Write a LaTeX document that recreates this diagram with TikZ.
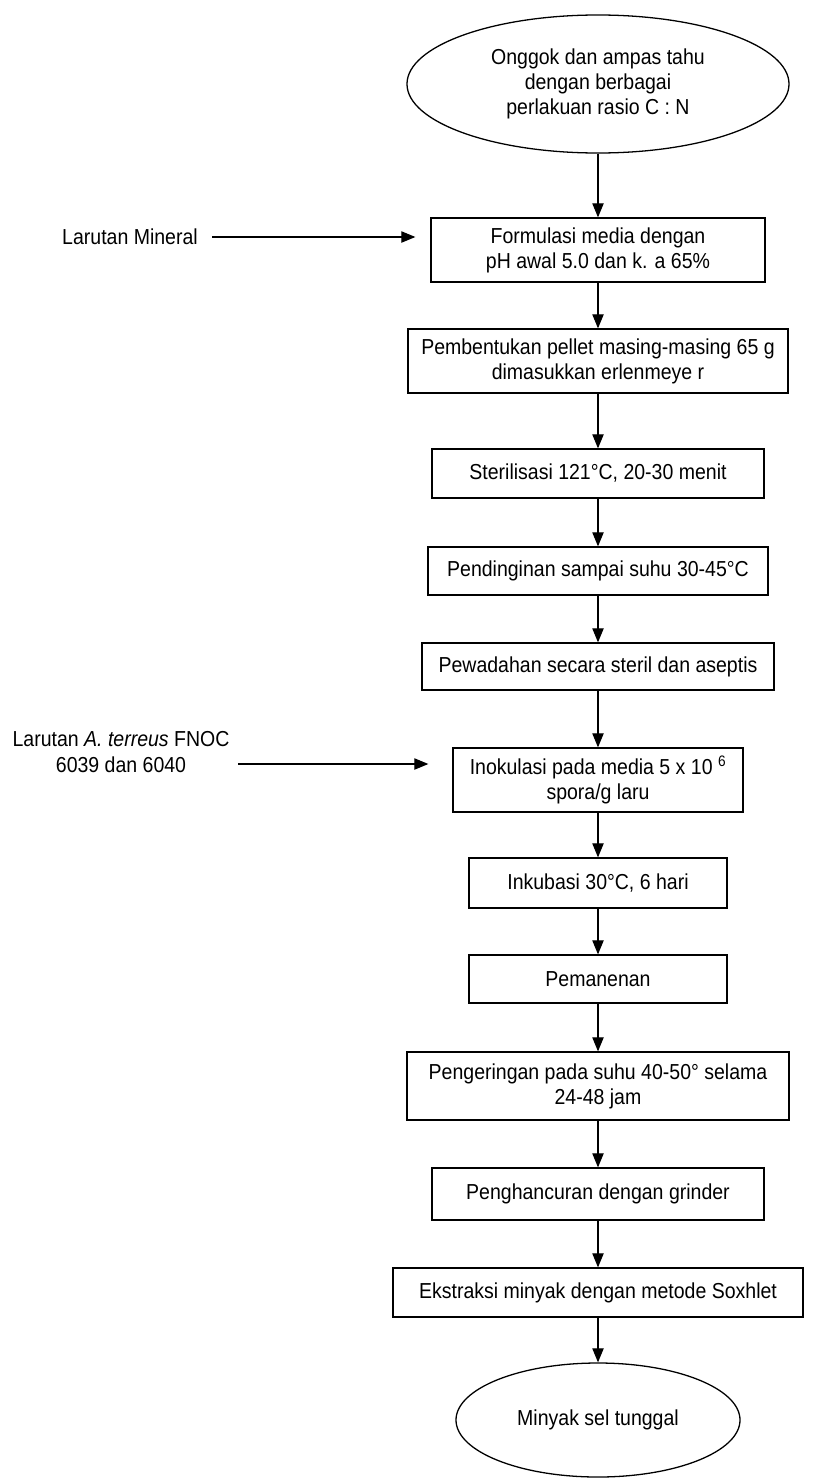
\documentclass[tikz,border=0pt]{standalone}
\usepackage{fontspec}
\setmainfont{Liberation Sans}[FakeStretch=0.9]
\usepackage{tikz}
\usetikzlibrary{arrows.meta, positioning, shapes.geometric, calc}

\tikzset{
    flowtext/.style={font=\fontsize{18.5}{21.5}\selectfont, align=center},
    stepbox/.style={flowtext, draw, line width=1.1pt, inner sep=2pt},
    endcap/.style={flowtext, draw, ellipse, line width=1.1pt, inner sep=0pt},
    flowarrow/.style={-{Triangle[length=0.42cm, width=0.34cm]}, line width=0.9pt}
}

\begin{document}
\begin{tikzpicture}[x=0.03cm, y=-0.03cm]
    \useasboundingbox (0,0) rectangle (835,1483);

    % Main column - process steps
    \node[endcap, minimum width=11.46cm, minimum height=4.14cm] (start) at (598,84) {Onggok dan ampas tahu\\dengan berbagai\\perlakuan  rasio C : N};
    \node[stepbox, minimum width=10.02cm, minimum height=1.92cm] (formula) at (598,250) {Formulasi media dengan\\pH awal 5.0 dan k. a 65\%};
    \node[stepbox, minimum width=11.4cm, minimum height=1.92cm] (pellet) at (598,361) {Pembentukan pellet masing-masing 65 g\\dimasukkan erlenmeye r};
    \node[stepbox, minimum width=9.96cm, minimum height=1.47cm] (steril) at (598,473.5) {Sterilisasi 121°C, 20-30 menit};
    \node[stepbox, minimum width=10.2cm, minimum height=1.44cm] (cool) at (598,571) {Pendinginan sampai suhu 30-45°C};
    \node[stepbox, minimum width=10.56cm, minimum height=1.41cm] (wadah) at (598,666.5) {Pewadahan secara steril dan  aseptis};
    \node[stepbox, minimum width=8.7cm, minimum height=1.92cm] (inok) at (598,780) {Inokulasi pada media 5 x 10 \textsuperscript{6}\\spora/g laru};
    \node[stepbox, minimum width=7.74cm, minimum height=1.5cm] (inkub) at (598,883) {Inkubasi 30°C, 6 hari};
    \node[stepbox, minimum width=7.74cm, minimum height=1.44cm] (panen) at (598,979) {Pemanenan};
    \node[stepbox, minimum width=11.46cm, minimum height=2.04cm] (kering) at (598,1086) {Pengeringan pada suhu 40-50° selama\\24-48 jam};
    \node[stepbox, minimum width=9.96cm, minimum height=1.56cm] (hancur) at (598,1194) {Penghancuran dengan grinder};
    \node[stepbox, minimum width=12.3cm, minimum height=1.47cm] (ekstrak) at (598,1292.5) {Ekstraksi minyak dengan metode Soxhlet};
    \node[endcap, minimum width=8.52cm, minimum height=3.42cm] (minyak) at (598,1420) {Minyak sel tunggal};

    % Arrows down the column
    \foreach \a/\b in {start/formula, formula/pellet, pellet/steril, steril/cool, cool/wadah,
                       wadah/inok, inok/inkub, inkub/panen, panen/kering, kering/hancur,
                       hancur/ekstrak, ekstrak/minyak}
        \draw[flowarrow] (\a) -- (\b);

    % Left inputs
    \node[flowtext] (mineral) at (130,237) {Larutan Mineral};
    \node[flowtext] (spora) at (121,752) {Larutan \textit{A. terreus} FNOC\\6039 dan 6040};
    \coordinate (mineralout) at (212,237);
    \coordinate (sporaout) at (238,764);
    \draw[flowarrow, shorten >=0.45cm] (mineralout) -- (mineralout -| formula.west);
    \draw[flowarrow, shorten >=0.72cm] (sporaout) -- (sporaout -| inok.west);
\end{tikzpicture}
\end{document}
